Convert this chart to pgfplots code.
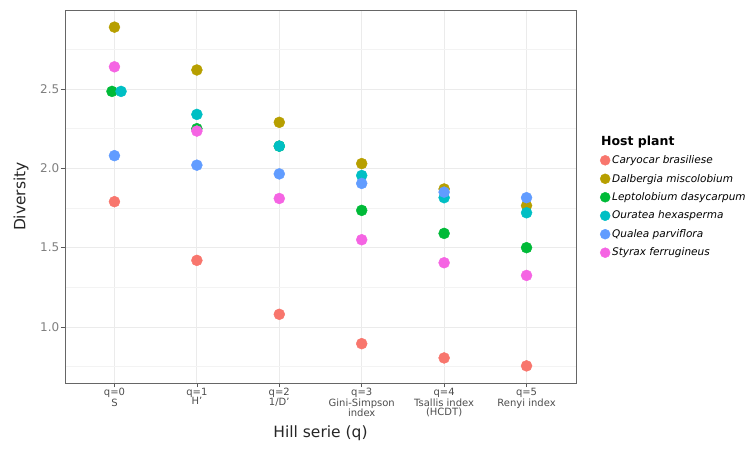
\documentclass[border=0pt]{standalone}
\usepackage{pgfplots}
\pgfplotsset{compat=1.18}
\usepackage{fontspec}
\setmainfont{DejaVu Sans}
\definecolor{cA}{HTML}{F8766D}
\definecolor{cB}{HTML}{B79F00}
\definecolor{cC}{HTML}{00BA38}
\definecolor{cD}{HTML}{00BFC4}
\definecolor{cE}{HTML}{619CFF}
\definecolor{cF}{HTML}{F564E3}
\definecolor{gridc}{HTML}{EBEBEB}
\definecolor{txt}{HTML}{4D4D4D}
\definecolor{ytxt}{HTML}{7F7F7F}
\begin{document}
\begin{tikzpicture}
\path[use as bounding box] (-65pt,-65pt) rectangle (681pt,383pt);
\begin{axis}[
  at={(0,0)}, anchor=south west,
  scale only axis,
  width=511pt, height=373pt,
  xmin=-0.6, xmax=5.6,
  ymin=0.647, ymax=2.998,
  xtick={0,1,2,3,4,5},
  xticklabels={{q=0\\S},{q=1\\H'},{q=2\\1/D'},{q=3\\Gini-Simpson\\index},{q=4\\Tsallis index\\(HCDT)},{q=5\\Renyi index}},
  xticklabel style={align=center, font=\fontsize{10}{9.5}\selectfont, text=txt, inner sep=1pt},
  ytick={1.0,1.5,2.0,2.5},
  yticklabels={1.0,1.5,2.0,2.5},
  yticklabel style={font=\fontsize{12}{13}\selectfont, text=ytxt, inner sep=1.5pt},
  minor ytick={0.75,1.25,1.75,2.25,2.75},
  minor tick length=0pt,
  major tick length=4pt,
  tick align=outside,
  tick style={gray!70!black, line width=0.5pt},
  xtick pos=bottom, ytick pos=left,
  grid=both,
  major grid style={gridc, line width=0.8pt},
  minor grid style={gridc!60!white, line width=0.5pt},
  axis line style={gray!80!black, line width=0.6pt},
  xlabel={Hill serie (q)},
  ylabel={Diversity},
  xlabel style={font=\fontsize{15.5}{17}\selectfont, text=black!85, at={(axis description cs:0.5,-0.134)}, anchor=center},
  ylabel style={font=\fontsize{15.5}{17}\selectfont, text=black!85, at={(axis description cs:-0.086,0.5)}, anchor=center},
  only marks,
  legend style={draw=none, fill=none, at={(1.04,0.5)}, anchor=west, font=\fontsize{10.5}{12}\selectfont\itshape, row sep=5pt, inner sep=0pt},
  legend image post style={mark size=5pt},
  legend cell align=left,
  /pgf/number format/assume math mode=true,
]
\addlegendimage{empty legend}
\addlegendentry{\hspace{-11pt}\upshape\bfseries\fontsize{12.5}{14}\selectfont Host plant}
\addplot[cA, mark=*, mark size=5.5pt, mark options={draw=none, fill=cA}] coordinates {(0,1.79) (1,1.42) (2,1.08) (3,0.895) (4,0.805) (5,0.755)};
\addlegendentry{Caryocar brasiliese}
\addplot[cB, mark=*, mark size=5.5pt, mark options={draw=none, fill=cB}] coordinates {(0,2.89) (1,2.62) (2,2.29) (3,2.03) (4,1.87) (5,1.765)};
\addlegendentry{Dalbergia miscolobium}
\addplot[cC, mark=*, mark size=5.5pt, mark options={draw=none, fill=cC}] coordinates {(-0.03,2.485) (1,2.25) (2,2.14) (3,1.735) (4,1.59) (5,1.50)};
\addlegendentry{Leptolobium dasycarpum}
\addplot[cD, mark=*, mark size=5.5pt, mark options={draw=none, fill=cD}] coordinates {(0.08,2.485) (1,2.34) (2,2.14) (3,1.955) (4,1.815) (5,1.72)};
\addlegendentry{Ouratea hexasperma}
\addplot[cE, mark=*, mark size=5.5pt, mark options={draw=none, fill=cE}] coordinates {(0,2.08) (1,2.02) (2,1.965) (3,1.905) (4,1.85) (5,1.815)};
\addlegendentry{Qualea parviflora}
\addplot[cF, mark=*, mark size=5.5pt, mark options={draw=none, fill=cF}] coordinates {(0,2.64) (1,2.235) (2,1.81) (3,1.55) (4,1.405) (5,1.325)};
\addlegendentry{Styrax ferrugineus}
\end{axis}
\end{tikzpicture}
\end{document}
